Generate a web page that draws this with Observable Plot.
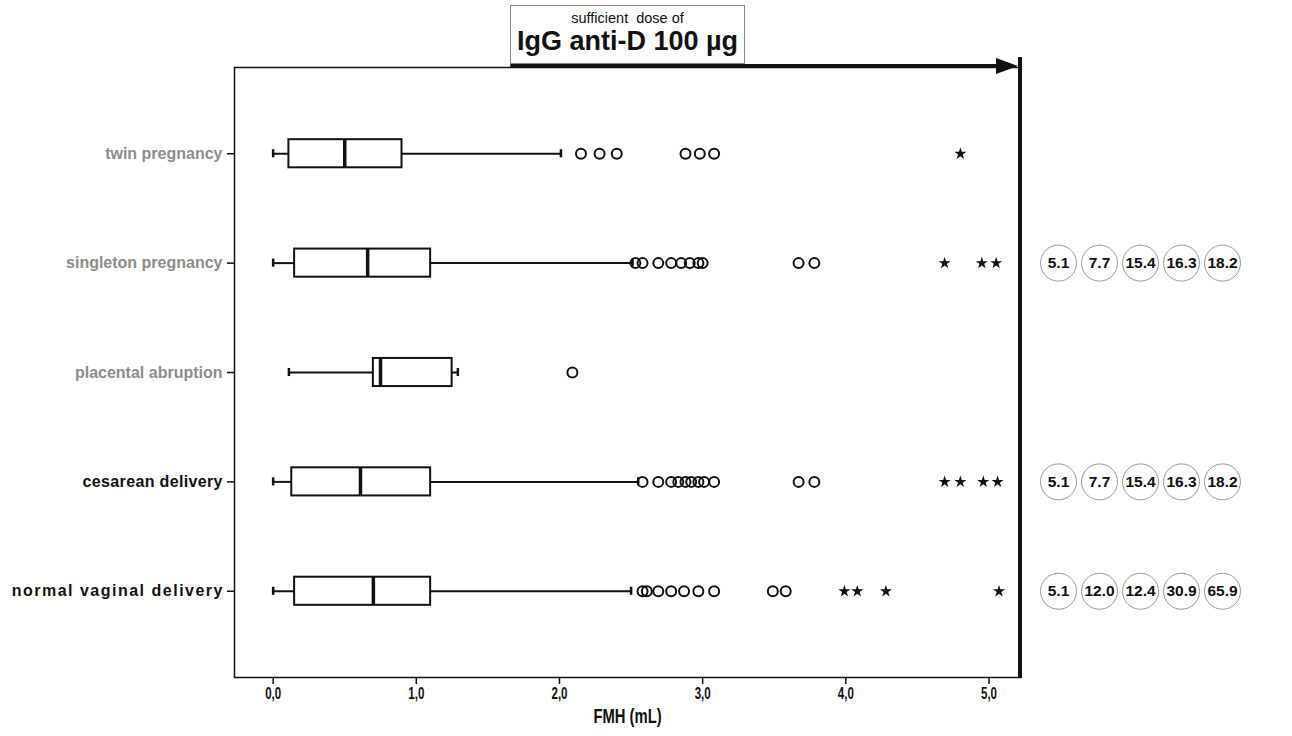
<!DOCTYPE html>
<html>
<head>
<meta charset="utf-8">
<script src="https://cdn.jsdelivr.net/npm/d3@7"></script>
<script src="https://cdn.jsdelivr.net/npm/@observablehq/plot@0.6"></script>
<style>
  html, body { margin: 0; padding: 0; background: #fff; }
  #wrap { position: relative; width: 1292px; height: 736px; font-family: "Liberation Sans", Arial, sans-serif; }
  #main, #side { position: absolute; top: 0; }
  #main { left: 0; }
  #side { left: 1030px; }
  #title { position: absolute; left: 510px; top: 5px; width: 233px; height: 57px; border: 1px solid #888; background: #fff; text-align: center; color: #111; }
  #title .t1 { font-size: 14.5px; margin-top: 4px; line-height: 16px; }
  #title .t2 { font-size: 27px; font-weight: bold; line-height: 30px; margin-top: 0px; }
</style>
</head>
<body>
<div id="wrap">
  <div id="main"></div>
  <div id="side"></div>
  <div id="title"><div class="t1">sufficient&nbsp; dose of</div><div class="t2">IgG anti-D 100 µg</div></div>
</div>
<script>
// ---- data ----
const categories = ["twin pregnancy", "singleton pregnancy", "placental abruption", "cesarean delivery", "normal vaginal delivery"];
const grayCategories = ["twin pregnancy", "singleton pregnancy", "placental abruption"];
const whiskerLow  = [0.00, 0.00, 0.11, 0.00, 0.00];
const q1          = [0.11, 0.15, 0.70, 0.13, 0.15];
const median      = [0.50, 0.66, 0.75, 0.61, 0.70];
const q3          = [0.90, 1.10, 1.25, 1.10, 1.10];
const whiskerHigh = [2.01, 2.51, 1.29, 2.55, 2.50];
const outliers = [
  [2.15, 2.28, 2.40, 2.88, 2.98, 3.08],
  [2.53, 2.58, 2.69, 2.78, 2.85, 2.91, 2.97, 3.00, 3.67, 3.78],
  [2.09],
  [2.58, 2.69, 2.78, 2.83, 2.88, 2.92, 2.97, 3.01, 3.08, 3.67, 3.78],
  [2.58, 2.61, 2.69, 2.78, 2.87, 2.97, 3.08, 3.49, 3.58]
];
const extremes = [
  [4.80],
  [4.69, 4.95, 5.05],
  [],
  [4.69, 4.80, 4.96, 5.06],
  [3.99, 4.08, 4.28, 5.07]
];
const offScaleValues = [
  [],
  [5.1, 7.7, 15.4, 16.3, 18.2],
  [],
  [5.1, 7.7, 15.4, 16.3, 18.2],
  [5.1, 12.0, 12.4, 30.9, 65.9]
];
const xTicks = [0, 1, 2, 3, 4, 5];
const xDomain = [-0.27, 5.22];
const arrowStart = 1.66;
const xLabel = "FMH (mL)";

// ---- derived tables ----
const boxes = categories.map((cat, i) => ({cat, lo: whiskerLow[i], q1: q1[i], med: median[i], q3: q3[i], hi: whiskerHigh[i]}));
const outlierPts = categories.flatMap((cat, i) => outliers[i].map(v => ({cat, v})));
const extremePts = categories.flatMap((cat, i) => extremes[i].map(v => ({cat, v})));
const sidePts = categories.flatMap((cat, i) => offScaleValues[i].map((v, j) => ({cat, j, v})));

const H = 736, MT = 67, MB = 59;
const yScale = {type: "band", domain: categories, paddingInner: 0.743, paddingOuter: 0.66, round: false, axis: null};

// letter spacing per label (style, to mimic the original's looser black labels)
const spacingOf = {"cesarean delivery": 0.35, "normal vaginal delivery": 1.5};

function spaced(ls) {
  return (index, scales, values, dims, ctx, next) => {
    const g = next(index, scales, values, dims, ctx);
    d3.select(g).attr("letter-spacing", ls);
    return g;
  };
}
// horizontally condensed text (mimics a narrow typeface)
function condensed(sx) {
  return (index, scales, values, dims, ctx, next) => {
    const g = next(index, scales, values, dims, ctx);
    d3.select(g).selectAll("text").attr("transform", function() {
      return (this.getAttribute("transform") || "") + ` scale(${sx},1)`;
    });
    return g;
  };
}

function topArrow(index, scales, values, dims) {
  const g = d3.create("svg:g");
  const y0 = dims.marginTop;
  const xa = scales.x(arrowStart);
  const xr = dims.width - dims.marginRight;
  g.append("line").attr("x1", xa).attr("x2", xr - 18).attr("y1", y0 - 1).attr("y2", y0 - 1)
    .attr("stroke", "#111").attr("stroke-width", 4);
  g.append("path").attr("d", `M${xr - 24},${y0 - 9}L${xr - 2},${y0 - 1}L${xr - 24},${y0 + 7}Z`).attr("fill", "#111");
  g.append("line").attr("x1", xr).attr("x2", xr).attr("y1", y0 - 10).attr("y2", dims.height - dims.marginBottom + 1)
    .attr("stroke", "#111").attr("stroke-width", 4);
  return g.node();
}

const labelMarks = categories.map(c => Plot.text([c], {
  y: d => d, frameAnchor: "left", textAnchor: "end", dx: -12 + (spacingOf[c] || 0), fontSize: 16, fontWeight: "bold",
  fill: grayCategories.includes(c) ? "#8c8c8c" : "#111",
  render: spacingOf[c] ? spaced(spacingOf[c]) : undefined
}));

const main = Plot.plot({
  width: 1040, height: H,
  marginLeft: 234, marginRight: 20, marginTop: MT, marginBottom: MB,
  x: {domain: xDomain, axis: null},
  y: yScale,
  style: {fontFamily: "'Liberation Sans', Arial, sans-serif", color: "#111", overflow: "visible"},
  marks: [
    Plot.frame({stroke: "#111", strokeWidth: 1.5}),
    Plot.axisX({ticks: xTicks, tickFormat: () => "", tickSize: 7, strokeWidth: 1.5, label: null}),
    Plot.text(xTicks, {x: d => d, text: d => d.toFixed(1).replace(".", ","), frameAnchor: "bottom", dy: 21,
      fontSize: 16.5, fontWeight: "bold", fill: "#111", render: condensed(0.7)}),
    Plot.text([xLabel], {frameAnchor: "bottom", dy: 45, fontSize: 19.5, fontWeight: "bold", fill: "#111", render: condensed(0.76)}),
    Plot.axisY({tickSize: 7, tickFormat: () => "", label: null, strokeWidth: 1.5}),
    ...labelMarks,
    // whiskers
    Plot.ruleY(boxes, {y: "cat", x1: "lo", x2: "q1", stroke: "#111", strokeWidth: 2}),
    Plot.ruleY(boxes, {y: "cat", x1: "q3", x2: "hi", stroke: "#111", strokeWidth: 2}),
    Plot.tickX(boxes, {x: "lo", y: "cat", insetTop: 10, insetBottom: 10, stroke: "#111", strokeWidth: 2.5}),
    Plot.tickX(boxes, {x: "hi", y: "cat", insetTop: 10, insetBottom: 10, stroke: "#111", strokeWidth: 2.5}),
    // boxes
    Plot.barX(boxes, {y: "cat", x1: "q1", x2: "q3", fill: "white", stroke: "#111", strokeWidth: 2}),
    Plot.tickX(boxes, {x: "med", y: "cat", stroke: "#111", strokeWidth: 3.5}),
    // outliers & extremes
    Plot.dot(outlierPts, {x: "v", y: "cat", r: 5, stroke: "#111", strokeWidth: 2, fill: "none"}),
    Plot.dot(extremePts, {x: "v", y: "cat", r: 3.8, symbol: "star", fill: "#111", stroke: "none"}),
    topArrow
  ]
});
document.getElementById("main").appendChild(main);

const side = Plot.plot({
  width: 262, height: H,
  marginLeft: 28, marginRight: 70, marginTop: MT, marginBottom: MB,
  x: {type: "point", domain: [0, 1, 2, 3, 4], padding: 0, axis: null},
  y: yScale,
  style: {fontFamily: "'Liberation Sans', Arial, sans-serif", overflow: "visible"},
  marks: [
    Plot.dot(sidePts, {x: "j", y: "cat", r: 18, fill: "white", stroke: "#9a9a9a", strokeWidth: 1}),
    Plot.text(sidePts, {x: "j", y: "cat", text: d => d.v.toFixed(1), fontSize: 15.5, fontWeight: "bold", fill: "#111"})
  ]
});
document.getElementById("side").appendChild(side);
</script>
</body>
</html>
